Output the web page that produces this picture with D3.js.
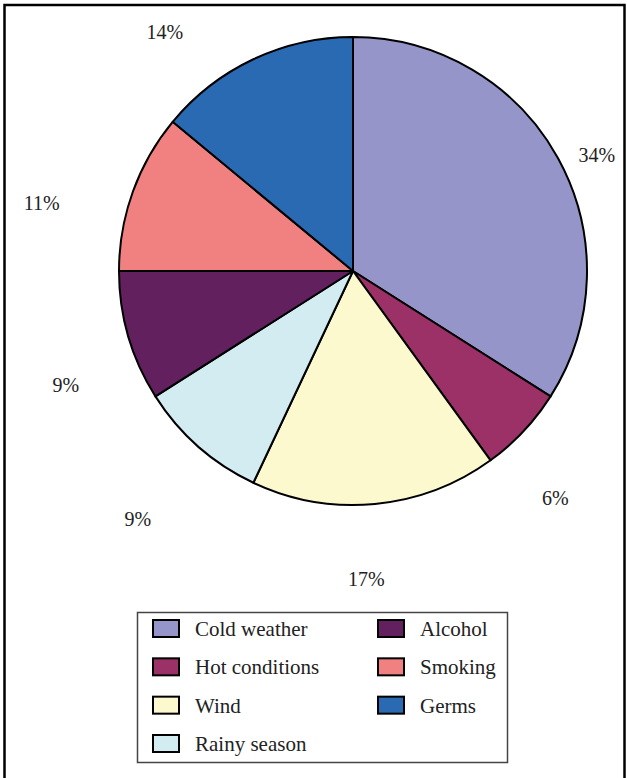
<!DOCTYPE html>
<html>
<head>
<meta charset="utf-8">
<script src="https://cdn.jsdelivr.net/npm/d3@7"></script>
<style>
  html, body { margin: 0; padding: 0; background: #fff; }
  svg { display: block; }
</style>
</head>
<body>
<svg id="chart" width="627" height="778"></svg>
<script>
// Causes and their shares (%)
const categories = ["Cold weather", "Hot conditions", "Wind", "Rainy season", "Alcohol", "Smoking", "Germs"];
const shares = [34, 6, 17, 9, 9, 11, 14];
const colors = ["#9595c9", "#9b3167", "#fcf9cf", "#d3ecf2", "#62205f", "#f18080", "#2a6ab3"];
// Legend reading order: two columns
const legendOrder = ["Cold weather", "Alcohol", "Hot conditions", "Smoking", "Wind", "Germs", "Rainy season"];

const FONT = "'Liberation Serif', 'Times New Roman', serif";
const W = 627, H = 778;
const svg = d3.select("#chart");

// page frame (open at the bottom)
svg.append("path")
  .attr("d", `M4.5,${H} V5 H624.5 V${H}`)
  .attr("fill", "none")
  .attr("stroke", "#000")
  .attr("stroke-width", 2.5);

const cx = 353, cy = 271, radius = 234;
const color = d3.scaleOrdinal().domain(categories).range(colors);

const pie = d3.pie().sort(null).value(d => d.value);
const arcs = pie(categories.map((c, i) => ({ name: c, value: shares[i] })));
const arc = d3.arc().innerRadius(0).outerRadius(radius);

const g = svg.append("g").attr("transform", `translate(${cx},${cy})`);
g.selectAll("path.slice")
  .data(arcs)
  .join("path")
  .attr("class", "slice")
  .attr("d", arc)
  .attr("fill", d => color(d.data.name))
  .attr("stroke", "#000")
  .attr("stroke-width", 2)
  .attr("stroke-linejoin", "round");

// percentage labels on a ring around the pie, with small per-label nudges
const ringCx = 331, ringCy = 298, ringRx = 301, ringRy = 290;
const nudge = {
  "Alcohol": [24, 6],
  "Germs": [-38, -4],
  "Rainy season": [6, 3],
  "Wind": [7, -8],
  "Smoking": [-6, 3],
  "Hot conditions": [5, 1],
  "Cold weather": [2, -3]
};
svg.selectAll("text.pct")
  .data(arcs)
  .join("text")
  .attr("class", "pct")
  .attr("x", d => {
    const a = (d.startAngle + d.endAngle) / 2;
    return ringCx + ringRx * Math.sin(a) + (nudge[d.data.name] || [0, 0])[0];
  })
  .attr("y", d => {
    const a = (d.startAngle + d.endAngle) / 2;
    return ringCy - ringRy * Math.cos(a) + (nudge[d.data.name] || [0, 0])[1];
  })
  .attr("text-anchor", "middle")
  .attr("dominant-baseline", "central")
  .style("font-family", FONT)
  .attr("font-size", 20)
  .attr("fill", "#222")
  .text(d => d.data.value + "%");

// legend
const lg = svg.append("g").attr("transform", "translate(137,612)");
lg.append("rect")
  .attr("x", 0.5).attr("y", 0.5)
  .attr("width", 370).attr("height", 150)
  .attr("fill", "#fff")
  .attr("stroke", "#444")
  .attr("stroke-width", 1.5);

const colX = d3.scalePoint().domain([0, 1]).range([16, 241]);
const rowY = d3.scalePoint().domain([0, 1, 2, 3]).range([16, 131]);

const items = lg.selectAll("g.item")
  .data(legendOrder)
  .join("g")
  .attr("class", "item")
  .attr("transform", (d, i) => `translate(${colX(i % 2)},${rowY(Math.floor(i / 2))})`);

items.append("rect")
  .attr("x", 0).attr("y", -8)
  .attr("width", 26).attr("height", 17)
  .attr("fill", d => color(d))
  .attr("stroke", "#000")
  .attr("stroke-width", 2);

items.append("text")
  .attr("x", 42)
  .attr("y", 1)
  .attr("dominant-baseline", "central")
  .style("font-family", FONT)
  .attr("font-size", 21)
  .attr("fill", "#222")
  .text(d => d);
</script>
</body>
</html>
